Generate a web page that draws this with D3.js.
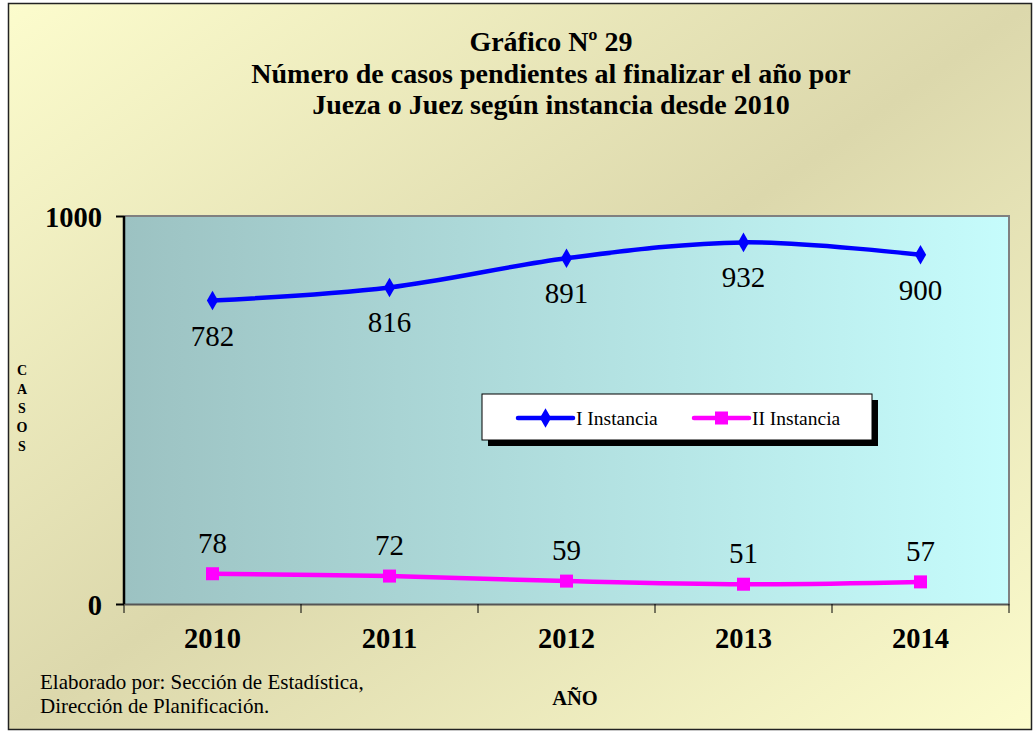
<!DOCTYPE html>
<html><head><meta charset="utf-8">
<script src="https://cdn.jsdelivr.net/npm/d3@7"></script>
<style>body{margin:0;background:#fff}svg{display:block}
svg text{font-family:"Liberation Serif","Times New Roman",Tinos,"DejaVu Serif",serif}</style>
</head><body>
<script>
const years = ["2010","2011","2012","2013","2014"];
const instanciaI = [782, 816, 891, 932, 900];
const instanciaII = [78, 72, 59, 51, 57];
const seriesNames = ["I Instancia", "II Instancia"];
const yTicks = [0, 1000];
const titleLines = ["Gráfico Nº 29", "Número de casos pendientes al finalizar el año por", "Jueza o Juez según instancia desde 2010"];

const W = 1034, H = 732;
const svg = d3.select("body").append("svg").attr("width", W).attr("height", H);
const defs = svg.append("defs");
const bg = defs.append("linearGradient").attr("id","bg").attr("x1","0").attr("y1","0").attr("x2","1").attr("y2","1");
bg.append("stop").attr("offset","0").attr("stop-color","#fcfccd");
bg.append("stop").attr("offset","0.5").attr("stop-color","#dcd8ac");
bg.append("stop").attr("offset","1").attr("stop-color","#fcfccd");
const pg = defs.append("linearGradient").attr("id","pg").attr("x1","0").attr("y1","0").attr("x2","1").attr("y2","0");
pg.append("stop").attr("offset","0").attr("stop-color","#9cc2c2");
pg.append("stop").attr("offset","1").attr("stop-color","#c6fcfc");

svg.append("rect").attr("x",8.5).attr("y",3.5).attr("width",1023).attr("height",726)
  .attr("fill","url(#bg)").attr("stroke","#222").attr("stroke-width",1.5);

svg.append("g").selectAll("text").data(titleLines).join("text")
  .attr("x", 551).attr("y",(d,i)=>51+i*31.5).attr("text-anchor","middle")
  .attr("font-weight","bold").attr("font-size",28).text(d=>d);

const m = {l:124, r:1009, t:216, b:604};
const x = d3.scaleBand().domain(years).range([m.l, m.r]);
const y = d3.scaleLinear().domain([0,1000]).range([m.b, m.t]);

svg.append("rect").attr("x",m.l).attr("y",m.t).attr("width",m.r-m.l).attr("height",m.b-m.t).attr("fill","url(#pg)");
svg.append("path").attr("d",`M${m.l},${m.t}H${m.r}V${m.b}`).attr("fill","none").attr("stroke","#808080").attr("stroke-width",2);

// x axis
const xa = svg.append("g").attr("transform",`translate(0,${m.b})`)
  .call(d3.axisBottom(x).tickSize(0).tickPadding(24));
xa.attr("font-family",null);
xa.select(".domain").attr("stroke","#555").attr("stroke-width",2);
xa.selectAll("text").attr("font-weight","bold").attr("font-size",28.5).attr("fill","#000");
xa.selectAll(".bt").data(d3.range(years.length+1)).join("line")
  .attr("x1",i=>m.l+i*x.step()).attr("x2",i=>m.l+i*x.step()).attr("y1",0).attr("y2",9)
  .attr("stroke","#000").attr("stroke-width",1);

// y axis
const ya = svg.append("g").attr("transform",`translate(${m.l},0)`)
  .call(d3.axisLeft(y).tickValues(yTicks).tickSize(8).tickPadding(14).tickFormat(d3.format("d")));
ya.attr("font-family",null);
ya.select(".domain").attr("stroke","#000").attr("stroke-width",2.5).attr("d",`M0,${m.t}V${m.b}`);
ya.selectAll(".tick line").attr("stroke","#000").attr("stroke-width",2);
ya.selectAll("text").attr("font-weight","bold").attr("font-size",28.5).attr("fill","#000").attr("dy","0.36em");

// CASOS vertical
svg.append("g").selectAll("text").data("CASOS".split("")).join("text")
  .attr("x",22).attr("y",(d,i)=>375+i*19).attr("text-anchor","middle")
  .attr("font-weight","bold").attr("font-size",14).text(d=>d);

const cx = d => x(d)+x.bandwidth()/2;
const line = d3.line().curve(d3.curveCatmullRom.alpha(0.5));
const ptsI = years.map((yr,i)=>[cx(yr), y(instanciaI[i])]);
const ptsII = years.map((yr,i)=>[cx(yr), y(instanciaII[i])]);

svg.append("path").attr("d",line(ptsI)).attr("fill","none").attr("stroke","#0000ff").attr("stroke-width",4.5);
svg.append("path").attr("d",line(ptsII)).attr("fill","none").attr("stroke","#ff00ff").attr("stroke-width",4.5);

const diamond = d3.symbol().type(d3.symbolDiamond).size(110);
svg.append("g").selectAll("path").data(ptsI).join("path")
  .attr("transform",d=>`translate(${d[0]},${d[1]})`).attr("d",diamond).attr("fill","#0000ff");
svg.append("g").selectAll("rect").data(ptsII).join("rect")
  .attr("x",d=>d[0]-6.5).attr("y",d=>d[1]-6.5).attr("width",13).attr("height",13).attr("fill","#ff00ff");

svg.append("g").selectAll("text").data(instanciaI).join("text")
  .attr("x",(d,i)=>cx(years[i])).attr("y",d=>y(d)+45).attr("text-anchor","middle")
  .attr("font-size",29).text(d=>d);
svg.append("g").selectAll("text").data(instanciaII).join("text")
  .attr("x",(d,i)=>cx(years[i])).attr("y",d=>y(d)-21).attr("text-anchor","middle")
  .attr("font-size",29).text(d=>d);

// legend
const lg = svg.append("g");
lg.append("rect").attr("x",488).attr("y",400).attr("width",390).attr("height",46).attr("fill","#000");
lg.append("rect").attr("x",482).attr("y",394).attr("width",390).attr("height",46).attr("fill","#fff").attr("stroke","#000").attr("stroke-width",1);
const colors = ["#0000ff","#ff00ff"];
const lx = [518, 694];
seriesNames.forEach((n,i)=>{
  lg.append("line").attr("x1",lx[i]).attr("x2",lx[i]+55).attr("y1",418).attr("y2",418)
    .attr("stroke",colors[i]).attr("stroke-width",4.5).attr("stroke-linecap","round");
  if(i===0) lg.append("path").attr("transform",`translate(${lx[i]+27.5},418)`).attr("d",diamond).attr("fill",colors[i]);
  else lg.append("rect").attr("x",lx[i]+21).attr("y",411.5).attr("width",13).attr("height",13).attr("fill",colors[i]);
  lg.append("text").attr("x",lx[i]+58).attr("y",425).attr("font-size",19.5).text(n);
});

svg.append("text").attr("x",575).attr("y",705).attr("text-anchor","middle")
  .attr("font-weight","bold").attr("font-size",20.5).text("AÑO");
svg.append("text").attr("x",40).attr("y",689).attr("font-size",21).text("Elaborado por: Sección de Estadística,");
svg.append("text").attr("x",40).attr("y",713).attr("font-size",21).text("Dirección de Planificación.");
</script>
</body></html>
